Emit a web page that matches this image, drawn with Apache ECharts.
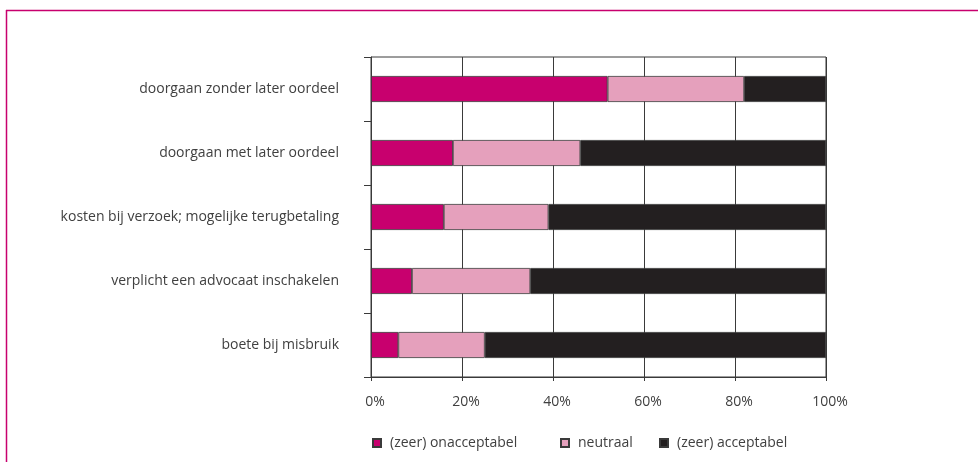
<!DOCTYPE html>
<html>
<head>
<meta charset="utf-8">
<script src="https://cdn.jsdelivr.net/npm/echarts@6/dist/echarts.min.js"></script>
<style>
html,body{margin:0;padding:0;background:#fff;}
#c{width:978px;height:462px;}
</style>
</head>
<body>
<div id="c"></div>
<script>
const categories = [
  'doorgaan zonder later oordeel',
  'doorgaan met later oordeel',
  'kosten bij verzoek; mogelijke terugbetaling',
  'verplicht een advocaat inschakelen',
  'boete bij misbruik'
];
const seriesNames = ['(zeer) onacceptabel', 'neutraal', '(zeer) acceptabel'];
const onacceptabel = [52, 18, 16, 9, 6];
const neutraal = [30, 28, 23, 26, 19];
const acceptabel = [18, 54, 61, 65, 75];
const xTicks = [0, 20, 40, 60, 80, 100];

const colors = ['#C8006E', '#E5A0BC', '#231F20'];
const font = '"Open Sans", Lato, sans-serif';
const chart = echarts.init(document.getElementById('c'));
const values = [onacceptabel, neutraal, acceptabel];

chart.setOption({
  animation: false,
  textStyle: { fontFamily: font },
  grid: { left: 371, right: 152, top: 57, bottom: 85, show: true, borderColor: '#3a3a3a', borderWidth: 1 },
  graphic: [
    { type: 'line', shape: { x1: 6, y1: 10.5, x2: 978, y2: 10.5 }, style: { stroke: '#C8006E', lineWidth: 1.5 } },
    { type: 'line', shape: { x1: 6.5, y1: 10, x2: 6.5, y2: 462 }, style: { stroke: '#C8006E', lineWidth: 1.5 } }
  ],
  legend: seriesNames.map((n, i) => ({
    data: [n],
    left: [372, 560, 659][i],
    top: 436,
    padding: 0,
    itemWidth: 8,
    itemHeight: 8,
    icon: 'rect',
    selectedMode: false,
    textStyle: { fontFamily: font, fontSize: 14, color: '#404040', padding: [0, 0, 0, 4] }
  })),
  xAxis: {
    type: 'value',
    min: xTicks[0],
    max: xTicks[xTicks.length - 1],
    interval: 20,
    axisLine: { show: true, lineStyle: { color: '#3a3a3a' } },
    axisTick: { show: true, length: 4, lineStyle: { color: '#3a3a3a' } },
    splitLine: { show: true, lineStyle: { color: '#3a3a3a', width: 1 } },
    axisLabel: { formatter: '{value}%', margin: 18, fontSize: 14, color: '#404040', fontFamily: font, padding: [0, 0, 0, 8] }
  },
  yAxis: {
    type: 'category',
    inverse: true,
    data: categories,
    axisLine: { show: true, lineStyle: { color: '#3a3a3a' } },
    axisTick: { show: true, length: 7, lineStyle: { color: '#3a3a3a' } },
    axisLabel: { margin: 32, fontSize: 14, color: '#404040', fontFamily: font, padding: [8, 0, 0, 0] }
  },
  series: seriesNames.map((n, i) => ({
    name: n,
    type: 'bar',
    stack: 'total',
    barWidth: 26,
    data: values[i],
    itemStyle: { color: colors[i], borderColor: '#3a3a3a', borderWidth: 0.8 }
  }))
});
</script>
</body>
</html>
